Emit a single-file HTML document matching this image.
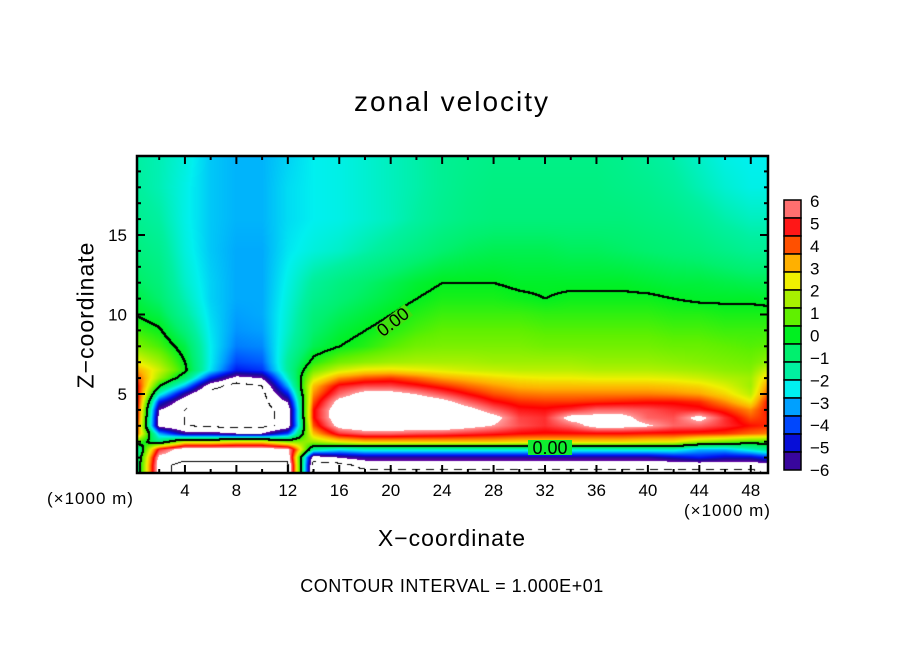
<!DOCTYPE html>
<html><head><meta charset="utf-8"><style>
body{margin:0;background:#fff;width:904px;height:654px;overflow:hidden;font-family:"Liberation Sans",sans-serif;}
#wrap{position:relative;width:904px;height:654px;}
.t{position:absolute;color:#000;white-space:nowrap;}
</style></head><body>
<div id="wrap">
<div class="t" style="left:0;width:904px;text-align:center;top:86px;font-size:28px;letter-spacing:2px;">zonal velocity</div>
<div class="t" style="left:0;width:904px;text-align:center;top:525px;font-size:23px;letter-spacing:1px;">X−coordinate</div>
<div class="t" style="left:86px;top:315px;font-size:23px;letter-spacing:1px;transform:translate(-50%,-50%) rotate(-90deg);">Z−coordinate</div>
<div class="t" style="left:0;width:904px;text-align:center;top:576px;font-size:18px;letter-spacing:0.5px;">CONTOUR INTERVAL = 1.000E+01</div>
<div class="t" style="left:47px;top:489px;font-size:17px;letter-spacing:1px;">(×1000 m)</div>
<div class="t" style="left:684px;top:501px;font-size:17px;letter-spacing:1px;">(×1000 m)</div>
<canvas id="cv" width="631" height="317" style="position:absolute;left:137px;top:156px;"></canvas>
<svg id="ov" width="904" height="654" style="position:absolute;left:0;top:0;"></svg>
</div>
<script>
const xNodes=[0,2,4,6,8,10,12,14,16,18,20,22,24,26,28,30,32,34,36,38,40,42,44,46,48,50];
const zNodes=[0,0.5,1,1.5,2,2.5,3,3.5,4,4.5,5,5.5,6,6.5,7,8,9,10,11,12,14,16,18,20];
const row_z0  =[-2.5,7,8,8,8,8,8,-8,-8,-8,-8,-8,-8,-8,-8,-8,-8,-8,-8,-8,-8,-8,-8,-8,-8,-7];
const row_z0_5=[-2.5,7,8,8,8,8,8,-8,-8,-7,-7,-7,-7,-7,-7,-7,-7,-7,-7,-7,-7,-7,-7,-7,-7,-6.5];
const row_z1  =[-2.5,6.5,7,7,7,7,7,-7,-6,-5.5,-5.5,-5.5,-5.5,-5.5,-5.5,-5.5,-5.5,-5.5,-5.5,-5.5,-5.5,-5,-4.5,-5,-5,-4];
const row_z1_5=[-3,5,7,7,7,7,6.5,-1.5,-2.5,-2,-2,-2,-2,-2,-2,-2,-2,-2,-2,-2,-2,-2,-3,-3,-2,-1];
const row_z2  =[1,-1,2,2,2.5,2.5,1,1.5,2.5,3,3,3,3,3,3,2.8,2.8,2.8,2.8,2.8,2.6,2.5,1.5,1,0.5,0.5];
const row_z2_5=[5,-3,-5.5,-5.5,-6,-6,-4,3,5,5.5,5.5,5.3,5.2,5,4.8,4.6,4.5,4.5,4.5,4.5,4.4,4.4,4.3,4.2,3.8,3.5];
const row_z3  =[6,-6.5,-7.5,-8,-8,-8,-7,4,6.5,7,7,7,7,6.5,6,5.3,5,5.5,6.5,6.5,6.2,5.5,5.5,5,4.5,4.2];
const row_z3_5=[6.5,-6.5,-7.5,-8,-8,-8,-7,4.5,7,7,7,7,7,7,6.5,5.2,5,6.5,6.5,6.5,5.5,5.3,6.5,5,4,4.5];
const row_z4  =[6.5,-6,-7.5,-8,-8,-8,-7,4.5,7,7,7,7,7,6.5,5.5,4.8,4.7,5,5.5,5.5,5.3,5,4.8,4.3,3.5,5];
const row_z4_5=[6.5,-4.5,-7,-8,-8,-8,-6,4,6.5,7,7,7,6.5,5.5,4.7,4.3,4.2,4.2,4.3,4.4,4.5,4.5,4.3,3.5,2.5,5.5];
const row_z5  =[6,-2,-5.5,-8,-8,-8,-4.5,3.5,5.5,6.5,6.5,6,5.3,4.6,4,3.7,3.6,3.6,3.6,3.6,3.6,3.5,3.3,2.7,1.8,5];
const row_z5_5=[5.5,0,-3,-7,-8,-7.5,-3,3,4.8,5.2,5.2,4.8,4.3,3.8,3.4,3.1,3,3,3,3,3,2.9,2.7,2.2,1.5,4.5];
const row_z6  =[4.5,1.5,-0.8,-4.5,-6.5,-6,-2,2,3.5,4,4.2,3.8,3.3,3,2.7,2.5,2.4,2.4,2.3,2.3,2.3,2.2,2,1.7,1.5,3.5];
const row_z6_5=[3.5,2,0.2,-2.5,-4.5,-4.2,-1.5,1,2,2.5,2.6,2.4,2.2,2,1.9,1.8,1.8,1.8,1.7,1.7,1.7,1.6,1.5,1.3,1.2,2.5];
const row_z7  =[2.5,1.5,0,-2.4,-4.0,-3.8,-1.5,0.3,1,1.3,1.5,1.6,1.6,1.6,1.5,1.5,1.5,1.5,1.4,1.4,1.4,1.3,1.2,1.1,1,1.5];
const row_z8  =[1.2,0.6,-0.4,-2.4,-3.5,-3.4,-1.8,-0.5,0,0.3,0.7,1,1.1,1.1,1.1,1.1,1,1,1,1,1,0.9,0.9,0.8,0.7,0.8];
const row_z9  =[0.5,0.1,-1,-2.5,-3.3,-3.2,-2,-0.8,-0.3,0,0.3,0.6,0.8,0.8,0.8,0.8,0.7,0.7,0.7,0.7,0.7,0.6,0.6,0.5,0.5,0.5];
const row_z10 =[0,-0.4,-1.5,-2.6,-3.2,-3.1,-2.1,-1,-0.6,-0.3,0,0.3,0.5,0.5,0.5,0.5,0.4,0.4,0.4,0.4,0.4,0.3,0.3,0.2,0.2,0.2];
const row_z11 =[-0.3,-0.8,-1.8,-2.7,-3.1,-3.1,-2.2,-1.3,-0.9,-0.6,-0.3,0,0.2,0.2,0.2,0.1,0,0.1,0.1,0.1,0.1,0,-0.1,-0.1,-0.1,-0.2];
const row_z12 =[-0.6,-1,-2,-2.7,-3.1,-3.1,-2.3,-1.5,-1.1,-0.8,-0.5,-0.2,0,0,0,-0.1,-0.1,-0.1,-0.1,-0.1,-0.2,-0.3,-0.3,-0.4,-0.5,-0.5];
const row_z14 =[-1,-1.3,-2.2,-2.8,-3.1,-3.1,-2.5,-2.2,-2,-1.7,-1.4,-1.1,-0.8,-0.6,-0.5,-0.5,-0.5,-0.6,-0.6,-0.7,-0.8,-0.9,-1,-1.2,-1.4,-1.4];
const row_z16 =[-1.3,-1.6,-2.3,-2.8,-3.0,-3.0,-2.6,-2.4,-2.3,-2.1,-1.9,-1.6,-1.3,-1.1,-1.0,-1.0,-1.0,-1.0,-1,-1,-1.1,-1.2,-1.4,-1.7,-1.9,-1.9];
const row_z18 =[-1.5,-1.8,-2.3,-2.8,-3.0,-3.0,-2.6,-2.4,-2.3,-2.1,-1.9,-1.7,-1.4,-1.2,-1.1,-1.1,-1.1,-1.1,-1.1,-1.2,-1.3,-1.5,-1.8,-2.1,-2.3,-2.3];
const row_z20 =[-1.6,-1.8,-2.2,-2.8,-3.0,-3.0,-2.7,-2.4,-2.3,-2.1,-1.9,-1.7,-1.4,-1.3,-1.2,-1.2,-1.2,-1.2,-1.2,-1.3,-1.5,-1.7,-2.0,-2.3,-2.4,-2.4];
const grid=[row_z0,row_z0_5,row_z1,row_z1_5,row_z2,row_z2_5,row_z3,row_z3_5,row_z4,row_z4_5,row_z5,row_z5_5,row_z6,row_z6_5,row_z7,row_z8,row_z9,row_z10,row_z11,row_z12,row_z14,row_z16,row_z18,row_z20];
const xTicks=[4,8,12,16,20,24,28,32,36,40,44,48];
const zTicks=[5,10,15];
const cbarLabels=["6","5","4","3","2","1","0","−1","−2","−3","−4","−5","−6"];
const cbarValues=[6,5,4,3,2,1,0,-1,-2,-3,-4,-5,-6];

const PX0=137,PY0=156,PW=631,PH=317;
const xScale=v=>133.5+12.86*v;
const zScale=v=>473.5-15.9*v;
const xInv=p=>(p-133.5)/12.86;
const zInv=p=>(473.5-p)/15.9;

const stops=[[-6,[96,0,160]],[-5.3,[26,10,154]],[-4.6,[0,16,240]],[-3.9,[0,80,255]],[-3.2,[0,160,255]],[-2.4,[0,240,240]],[-1.6,[0,240,160]],[-0.8,[0,240,110]],[0,[0,240,32]],[0.8,[96,240,0]],[1.6,[168,240,0]],[2.4,[240,240,0]],[3.2,[255,176,0]],[4.0,[255,80,0]],[4.6,[255,0,0]],[5.3,[255,80,80]],[6,[255,152,152]]];
function cmap(v){
  if(v>6.05||v<-6.05) return [255,255,255];
  if(v<=stops[0][0]) return stops[0][1];
  for(let i=1;i<stops.length;i++){ if(v<=stops[i][0]){const a=stops[i-1],b=stops[i];const t=(v-a[0])/(b[0]-a[0]);return [0,1,2].map(k=>Math.round(a[1][k]+(b[1][k]-a[1][k])*t));}}
  return stops[stops.length-1][1];
}
function idx(arr,v){ if(v<=arr[0])return [0,0]; for(let i=1;i<arr.length;i++){ if(v<=arr[i]) return [i-1,(v-arr[i-1])/(arr[i]-arr[i-1])]; } return [arr.length-2,1]; }
function field(x,z){
  const [i,tx]=idx(xNodes,x),[j,tz]=idx(zNodes,z);
  const a=grid[j][i],b=grid[j][i+1],c=grid[j+1][i],d=grid[j+1][i+1];
  return (a*(1-tx)+b*tx)*(1-tz)+(c*(1-tx)+d*tx)*tz;
}
const cv=document.getElementById('cv'),ctx=cv.getContext('2d');
const img=ctx.createImageData(PW,PH);
const F=[];
for(let j=0;j<PH;j++){F.push(new Float32Array(PW));for(let i=0;i<PW;i++){F[j][i]=field(xInv(PX0+i+0.5),zInv(PY0+j+0.5));}}
for(let j=0;j<PH;j++)for(let i=0;i<PW;i++){
  const c=cmap(F[j][i]);const k=(j*PW+i)*4;
  img.data[k]=c[0];img.data[k+1]=c[1];img.data[k+2]=c[2];img.data[k+3]=255;
}
function mark(level,thick,dash){
  for(let j=0;j<PH-1;j++)for(let i=0;i<PW-1;i++){
    const s=F[j][i]>level;
    if(s!==(F[j][i+1]>level)||s!==(F[j+1][i]>level)){
      if(dash && ((i+j)%14)>7) continue;
      for(let dj=0;dj<thick;dj++)for(let di=0;di<thick;di++){const k=((j+dj)*PW+(i+di))*4;img.data[k]=0;img.data[k+1]=0;img.data[k+2]=0;}
    }
  }
}
mark(0,2,false);
mark(-7.5,1,true);
mark(7.5,1,false);
ctx.putImageData(img,0,0);

const NS='http://www.w3.org/2000/svg',ov=document.getElementById('ov');
function el(tag,attrs,parent){const e=document.createElementNS(NS,tag);for(const k in attrs)e.setAttribute(k,attrs[k]);(parent||ov).appendChild(e);return e;}
const bg1=el('rect',{x:375,y:315,width:38,height:14,fill:'#40e010',transform:'rotate(-38 393 322)'});


const l1=el('text',{x:393,y:328,'font-size':18,'font-family':'Liberation Sans, sans-serif','text-anchor':'middle',transform:'rotate(-38 393 322)'});


l1.textContent='0.00';
const bg=el('rect',{x:528,y:440,width:44,height:15,fill:'#10ec30'});


const l2=el('text',{x:550,y:454,'font-size':18,'font-family':'Liberation Sans, sans-serif','text-anchor':'middle'});


l2.textContent='0.00';
const fr=el('rect',{x:PX0,y:PY0,width:PW,height:PH,fill:'none',stroke:'#000','stroke-width':2.5});


for(let v=2;v<=49;v+=2){
  const major=xTicks.includes(v),x=xScale(v),L=major?8:4;
  const t1=el('line',{x1:x,x2:x,y1:PY0+PH,y2:PY0+PH-L,stroke:'#000','stroke-width':2});
  
  
  const t2=el('line',{x1:x,x2:x,y1:PY0,y2:PY0+L,stroke:'#000','stroke-width':2});
  
  
}
xTicks.forEach(v=>{
  const t=el('text',{x:xScale(v),y:496,'font-size':17,'font-family':'Liberation Sans, sans-serif','text-anchor':'middle'});
  
  
  t.textContent=v;
});
for(let v=1;v<=19;v++){
  const major=zTicks.includes(v),y=zScale(v),L=major?8:4;
  const t1=el('line',{x1:PX0,x2:PX0+L,y1:y,y2:y,stroke:'#000','stroke-width':2});
  
  
  const t2=el('line',{x1:PX0+PW,x2:PX0+PW-L,y1:y,y2:y,stroke:'#000','stroke-width':2});
  
  
}
zTicks.forEach(v=>{
  const t=el('text',{x:127,y:zScale(v)+6,'font-size':17,'font-family':'Liberation Sans, sans-serif','text-anchor':'end'});
  
  
  t.textContent=v;
});
const nBox=15,cbTop=200,cbH=270,bh=cbH/nBox;
for(let b=0;b<nBox;b++){
  const v=6-(b+0.5)*12/nBox;const c=cmap(v);
  const r=el('rect',{x:784,y:cbTop+b*bh,width:17,height:bh,fill:`rgb(${c[0]},${c[1]},${c[2]})`,stroke:'#000','stroke-width':1.5});
  
  
}
cbarValues.forEach((v,i)=>{
  const y=cbTop+1+(6-v)/12*(cbH-1);
  const t=el('text',{x:810,y:y+6,'font-size':17,'font-family':'Liberation Sans, sans-serif'});
  
  
  t.textContent=cbarLabels[i];
});
</script>
</body></html>
